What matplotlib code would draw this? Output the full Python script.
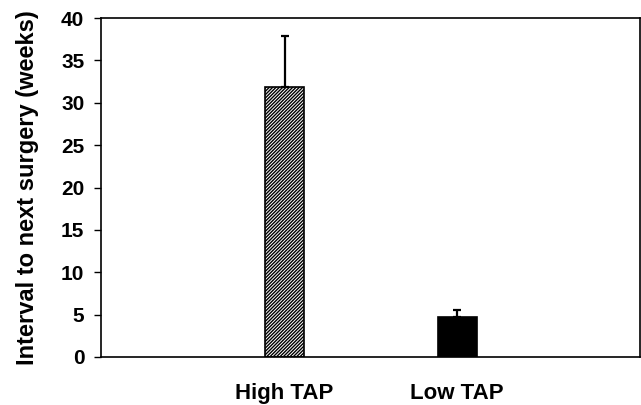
import numpy as np
import matplotlib.pyplot as plt

plt.rcParams['font.family'] = ['Liberation Sans', 'DejaVu Sans']
plt.rcParams['font.weight'] = 'bold'
plt.rcParams['hatch.linewidth'] = 1.0

groups = ['High TAP', 'Low TAP']
means = [31.8, 4.7]
errs = [6.1, 0.8]

fig = plt.figure(figsize=(6.41, 4.05), dpi=100)
ax = fig.add_axes([101/641, 1 - 357/405, 539/641, 339/405])

x = np.array([1, 2])
ax.bar(x[0], means[0], width=0.226, color='white', edgecolor='black',
       hatch='//////////', linewidth=1.2)
ax.bar(x[1], means[1], width=0.226, color='black', edgecolor='black', linewidth=1.2)
ax.errorbar(x, means, yerr=[[0, 0], errs], fmt='none', ecolor='black',
            elinewidth=1.6, capsize=3, capthick=1.6)

ax.set_xlim(-0.064, 3.06)
ax.set_ylim(0, 40)
ax.set_yticks(np.arange(0, 41, 5))
ax.set_xticks(x)
ax.set_xticklabels(groups, fontsize=16, fontweight='bold')
ax.tick_params(axis='x', length=0, pad=19)
ax.tick_params(axis='y', direction='out', length=5, labelsize=15, width=1, pad=7)
ax.set_ylabel('Interval to next surgery (weeks)', fontsize=17, fontweight='bold', labelpad=16)
for s in ax.spines.values():
    s.set_linewidth(1.2)

fig.savefig('out.png', dpi=100)
